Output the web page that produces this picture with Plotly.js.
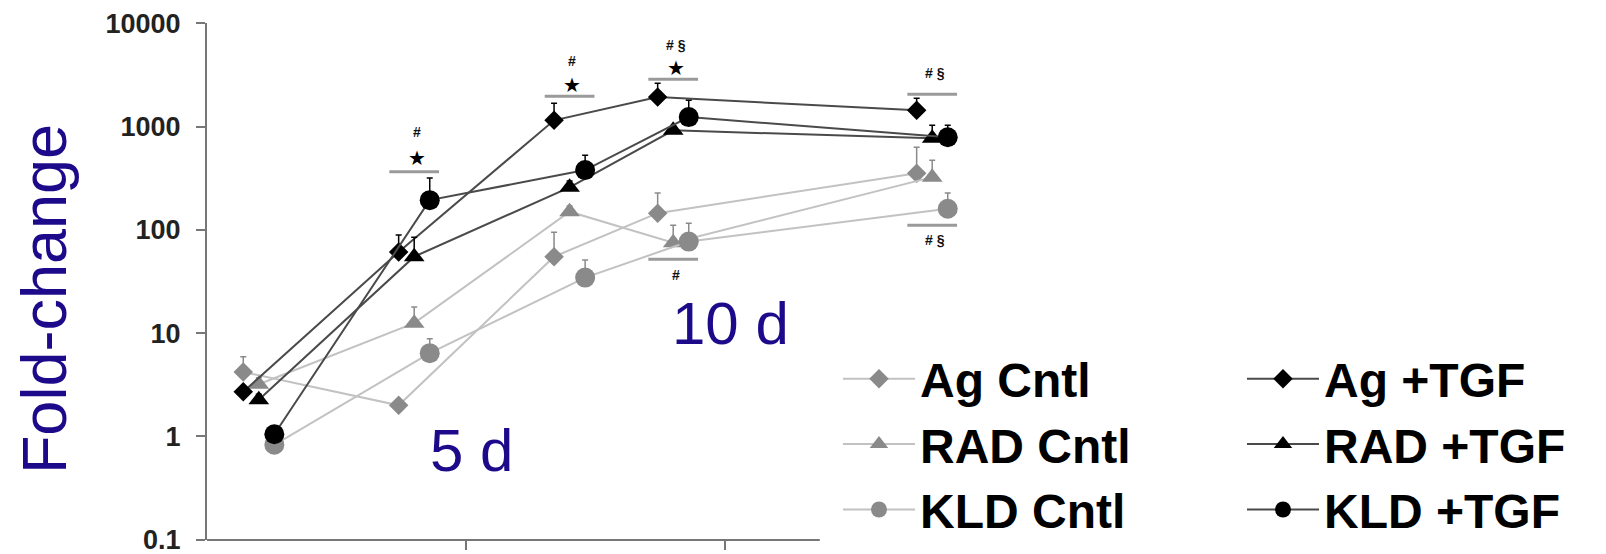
<!DOCTYPE html>
<html>
<head>
<meta charset="utf-8">
<script src="https://cdn.plot.ly/plotly-3.0.1.min.js"></script>
<style>html,body{margin:0;padding:0;background:#fff;}#chart{width:1606px;height:554px;}</style>
</head>
<body>
<div id="chart"></div>
<script>
// ---- data ----
const days = [1, 4, 7, 9, 14];
const groupOffset = {Ag: -0.3, RAD: 0, KLD: 0.3};

const agCntl   = [4.2, 2.0, 55, 145, 354];
const agCntlErr = [1.7, 0, 40, 82, 277];
const radCntl  = [3.2, 12.5, 150, 75, 324];
const radCntlErr = [0.5, 5.4, 20, 36, 149];
const kldCntl  = [0.83, 6.4, 34.5, 77, 160];
const kldCntlErr = [0.1, 2.4, 16.5, 39, 67];

const agTGF    = [2.7, 61, 1150, 1930, 1440];
const agTGFErr = [0.3, 28, 530, 700, 444];
const radTGF   = [2.26, 55, 258, 920, 770];
const radTGFErr = [0.3, 30, 40, 100, 260];
const kldTGF   = [1.05, 194, 379, 1235, 789];
const kldTGFErr = [0.1, 123, 150, 560, 244];

// significance marks: centre day, bar level, star level, text level, text
const sigDay   = [4, 7, 9, 14, 9, 14];
const sigBar   = [365, 1968, 2870, 2056, 52, 111];
const sigStar  = [494, 2512, 3673, null, null, null];
const sigTextY = [883, 4285, 6124, 3281, 36.6, 80];
const sigText  = ['#', '#', '# §', '# §', '#', '# §'];

const yTicks = [0.1, 1, 10, 100, 1000, 10000];
const yTickText = ['0.1', '1', '10', '100', '1000', '10000'];

// ---- styles ----
const CNTL_MARK = '#8a8a8a', CNTL_LINE = '#c2c2c2';
const TGF_MARK = '#000000', TGF_LINE = '#4a4a4a';
const BLUE = '#1c0a8a';

function series(name, group, vals, errs, isTGF, symbol, size, legend) {
  return {
    type: 'scatter', mode: 'lines+markers', name: name,
    x: days.map(d => d + groupOffset[group]), y: vals,
    legend: legend,
    line: {color: isTGF ? TGF_LINE : CNTL_LINE, width: 2},
    marker: {symbol: symbol, size: size, color: isTGF ? TGF_MARK : CNTL_MARK},
    error_y: {type: 'data', symmetric: false, array: errs, arrayminus: errs.map(() => 0),
              color: isTGF ? TGF_MARK : CNTL_MARK, thickness: 1.5, width: 3},
    cliponaxis: false
  };
}

const traces = [
  series('Ag Cntl', 'Ag', agCntl, agCntlErr, false, 'diamond', 15, 'legend'),
  series('RAD Cntl', 'RAD', radCntl, radCntlErr, false, 'triangle-up', 18, 'legend'),
  series('KLD Cntl', 'KLD', kldCntl, kldCntlErr, false, 'circle', 20, 'legend'),
  series('Ag +TGF', 'Ag', agTGF, agTGFErr, true, 'diamond', 15, 'legend2'),
  series('RAD +TGF', 'RAD', radTGF, radTGFErr, true, 'triangle-up', 18, 'legend2'),
  series('KLD +TGF', 'KLD', kldTGF, kldTGFErr, true, 'circle', 20, 'legend2')
];

// significance bars as line traces
sigDay.forEach((d, i) => {
  traces.push({type: 'scatter', mode: 'lines', x: [d - 0.48, d + 0.48], y: [sigBar[i], sigBar[i]],
    line: {color: '#9a9a9a', width: 3}, showlegend: false, hoverinfo: 'skip', cliponaxis: false});
});

const annotations = [];
sigDay.forEach((d, i) => {
  if (sigStar[i] !== null) {
    annotations.push({x: d + 0.05, y: Math.log10(sigStar[i]), xref: 'x', yref: 'y', text: '★',
      showarrow: false, font: {family: 'DejaVu Sans', size: 20, color: '#000'}});
  }
  annotations.push({x: d + 0.05, y: Math.log10(sigTextY[i]), xref: 'x', yref: 'y', text: sigText[i],
    showarrow: false, font: {family: 'Arial', size: 14, color: '#111', weight: 700}});
});
annotations.push({x: 5.1, y: -0.14, xref: 'x', yref: 'y', text: '5 d', showarrow: false,
  font: {family: 'Arial', size: 60, color: BLUE}});
annotations.push({x: 10.1, y: 1.09, xref: 'x', yref: 'y', text: '10 d', showarrow: false,
  font: {family: 'Arial', size: 60, color: BLUE}});

const legendFont = {family: 'Arial', size: 48, color: '#000', weight: 700};

const layout = {
  width: 1606, height: 554,
  margin: {l: 207, r: 622, t: 23, b: 14, autoexpand: false},
  paper_bgcolor: '#fff', plot_bgcolor: '#fff',
  showlegend: true,
  xaxis: {
    type: 'linear', range: [0, 15], showline: false, zeroline: false, showgrid: false,
    tickmode: 'array', tickvals: [5, 10], ticks: 'outside', ticklen: 9, tickwidth: 2, tickcolor: '#777',
    showticklabels: false
  },
  yaxis: {
    type: 'log', range: [-1.003, 4.003], showline: true, linecolor: '#777', linewidth: 2,
    zeroline: false, showgrid: false,
    tickmode: 'array', tickvals: yTicks, ticktext: yTickText,
    ticks: 'outside', ticklen: 9, tickwidth: 2, tickcolor: '#777',
    tickfont: {family: 'Arial', size: 27, color: '#222', weight: 700},
    ticklabelstandoff: 10, ticklabeloverflow: 'allow',
    title: {text: 'Fold-change&nbsp;&nbsp;', font: {family: 'Arial', size: 63, color: BLUE}, standoff: 18}
  },
  shapes: [
    {type: 'line', xref: 'x', yref: 'paper', x0: 0, x1: 11.83, y0: 0, y1: 0,
     line: {color: '#777', width: 2}}
  ],
  annotations: annotations,
  legend: {xref: 'container', yref: 'container', x: 838 / 1606, y: 1 - 341 / 554,
    xanchor: 'left', yanchor: 'top', bgcolor: 'rgba(0,0,0,0)', font: legendFont,
    itemwidth: 72, tracegroupgap: 0},
  legend2: {xref: 'container', yref: 'container', x: 1242 / 1606, y: 1 - 341 / 554,
    xanchor: 'left', yanchor: 'top', bgcolor: 'rgba(0,0,0,0)', font: legendFont,
    itemwidth: 72, tracegroupgap: 0}
};

Plotly.newPlot('chart', traces, layout, {staticPlot: true, displayModeBar: false});
</script>
</body>
</html>
